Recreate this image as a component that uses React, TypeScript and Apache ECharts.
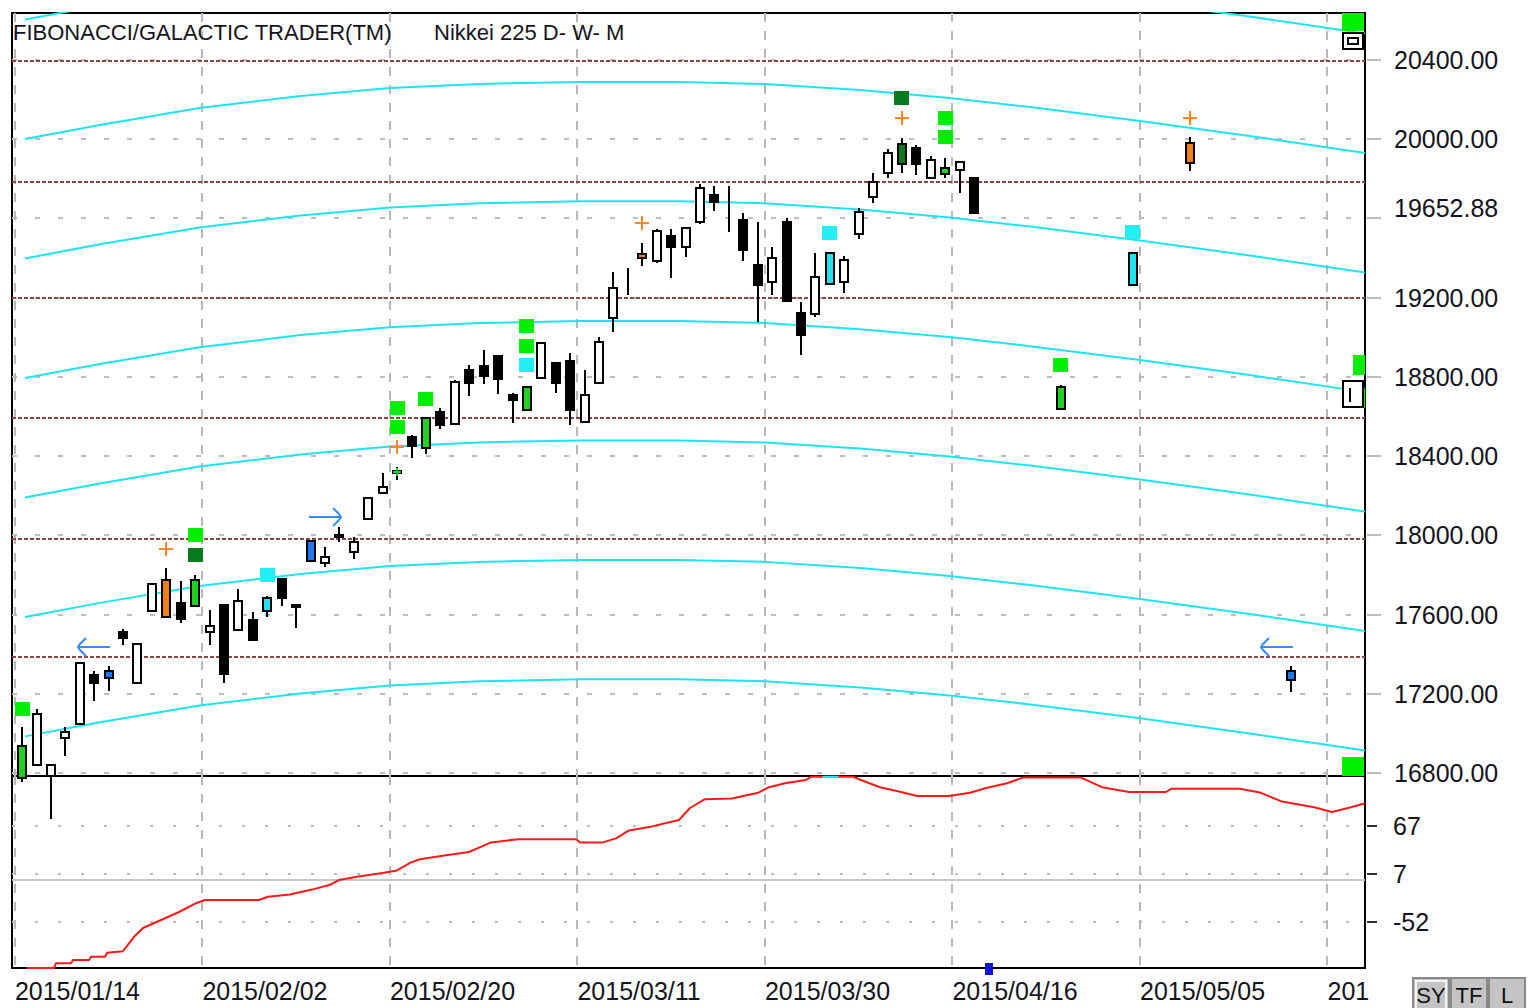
import React, { useEffect, useRef } from "react";
import * as echarts from "echarts";

// ---------- data ----------
const dateLabels = ["2015/01/14", "2015/02/02", "2015/02/20", "2015/03/11", "2015/03/30", "2015/04/16", "2015/05/05", "201"];
const dateLabelBars = [0, 13, 26, 39, 52, 65, 78, 91];

const priceTicks = [16800, 17200, 17600, 18000, 18400, 18800, 19200, 19600, 20000, 20400];
const priceLabels = [16800, 17200, 17600, 18000, 18400, 18800, 19200, 19652.88, 20000, 20400];
const lowerTicks = [67, 7, -52];

const candleOpen = [16936, 16840, 16785, 16976, 17047, 17293, 17278, 17510, 17253, 17616,
  17590, 17656, 17641, 17510, 17646, 17520, 17575, 17616, 17782, 17648,
  17872, 17862, 18003, 17918, 18084, 18215, 18326, 18497, 18441, 18623,
  18562, 18834, 18854, 18905, 18708, 18633, 18794, 18869, 18879, 18572,
  18769, 19096, 19330, 19418, 19383, 19509, 19458, 19584, 19720, 19756,
  19594, 19363, 19277, 19584, 19121, 19116, 19267, 19277, 19519, 19710,
  19831, 19876, 19957, 19806, 19826, 19846, 19806];
const candleClose = [16775, 17097, 16840, 17006, 17354, 17253, 17314, 17480, 17450, 17752,
  17777, 17580, 17777, 17540, 17298, 17666, 17470, 17686, 17686, 17644,
  17973, 17893, 17993, 17968, 18190, 18245, 18316, 18451, 18592, 18557,
  18774, 18769, 18804, 18789, 18683, 18749, 18970, 18769, 18633, 18708,
  18975, 19247, 19330, 19398, 19534, 19458, 19554, 19751, 19685, 19756,
  19443, 19262, 19398, 19182, 19010, 19302, 19423, 19388, 19630, 19786,
  19932, 19977, 19876, 19897, 19856, 19886, 19625];
const candleHigh = [17032, 17122, 16840, 17032, 17354, 17314, 17339, 17525, 17450, 17752,
  17837, 17767, 17802, 17621, 17646, 17731, 17611, 17696, 17782, 17648,
  17973, 17943, 18040, 17993, 18190, 18316, 18346, 18507, 18592, 18643,
  18784, 18859, 18935, 18905, 18718, 18749, 18975, 18869, 18920, 18834,
  19000, 19328, 19348, 19474, 19549, 19549, 19554, 19776, 19766, 19766,
  19625, 19584, 19458, 19604, 19177, 19423, 19423, 19408, 19655, 19831,
  19952, 20007, 19972, 19917, 19907, 19886, 19806];
const candleLow = [16755, 16840, 16568, 16886, 17047, 17163, 17213, 17444, 17253, 17616,
  17590, 17555, 17641, 17444, 17253, 17520, 17470, 17590, 17641, 17530,
  17872, 17842, 17968, 17883, 18084, 18215, 18280, 18391, 18411, 18537,
  18562, 18703, 18764, 18713, 18567, 18633, 18794, 18718, 18557, 18572,
  18769, 19025, 19212, 19358, 19373, 19297, 19403, 19574, 19635, 19529,
  19383, 19076, 19212, 19182, 18910, 19101, 19267, 19222, 19494, 19680,
  19806, 19831, 19821, 19806, 19806, 19730, 19625];
const candleKind = ["g", "w", "w", "w", "w", "b", "u", "b", "w", "w",
  "o", "b", "g", "w", "b", "w", "b", "c", "b", "b",
  "u", "w", "b", "w", "w", "w", "b", "b", "g", "b",
  "w", "b", "b", "b", "b", "g", "w", "b", "b", "w",
  "w", "w", "l", "o", "w", "b", "w", "w", "b", "l",
  "b", "b", "w", "b", "b", "w", "c", "w", "w", "w",
  "w", "d", "b", "w", "g", "w", "b"];

// projected candles
const projBars = [72, 77, 81, 88];
const projOpen = [18638, 19264, 19880, 17270];
const projClose = [18749, 19425, 19981, 17315];
const projHigh = [18759, 19425, 20011, 17340];
const projLow = [18638, 19264, 19839, 17209];
const projKind = ["g", "c", "o", "u"];

// Fibonacci levels (brown dashed)
const fibLevels = [20395, 19784, 19196, 18590, 17982, 17388];

// cyan arc bands
const bandX = [0.2, 5.4, 12.3, 19.3, 25.5, 31.7, 38.7, 45.6, 51.5, 58.1, 64.3, 69.9, 77.5, 85.1, 93.1];
const bandG = [20604, 20675, 20760, 20821, 20861, 20882, 20892, 20892, 20882, 20851, 20811, 20765, 20695, 20619, 20533];
const bandF = [20001, 20072, 20157, 20218, 20258, 20279, 20289, 20289, 20279, 20248, 20208, 20162, 20092, 20016, 19930];
const bandE = [19398, 19469, 19554, 19615, 19655, 19676, 19686, 19686, 19676, 19645, 19605, 19559, 19489, 19413, 19327];
const bandD = [18794, 18865, 18950, 19011, 19051, 19072, 19082, 19082, 19072, 19041, 19001, 18955, 18885, 18809, 18723];
const bandC = [18191, 18262, 18347, 18408, 18448, 18469, 18479, 18479, 18469, 18438, 18398, 18352, 18282, 18206, 18120];
const bandB = [17588, 17659, 17744, 17805, 17845, 17866, 17876, 17876, 17866, 17835, 17795, 17749, 17679, 17603, 17517];
const bandA = [16985, 17056, 17141, 17202, 17242, 17263, 17273, 17273, 17263, 17232, 17192, 17146, 17076, 17000, 16914];
const bands = [bandG, bandF, bandE, bandD, bandC, bandB, bandA];

// signal squares
const greenSqBars = [0, 12, 26, 26, 28, 35, 35, 64, 64, 72];
const greenSqVals = [17123, 18002, 18643, 18547, 18688, 19057, 18956, 20107, 20011, 18860];
const darkSqBars = [12, 61];
const darkSqVals = [17901, 20208];
const cyanSqBars = [17, 35, 56, 77];
const cyanSqVals = [17800, 18860, 19526, 19531];
const edgeSqBars = [92.3, 92.3];
const edgeSqVals = [20592, 16835];
const edgeSmallBars = [92.75, 92.96];
const edgeSmallVals = [18860, 18693];
const edgeBoxBars = [92.3, 92.3];
const edgeBoxVals = [20498, 18714];

// crosses and arrows
const orangeCrossBars = [10, 26, 43, 61, 81];
const orangeCrossVals = [17931, 18446, 19577, 20107, 20107];
const greenCrossBars = [26];
const greenCrossVals = [18320];
const leftArrowBars = [5, 87];
const leftArrowVals = [17436, 17436];
const rightArrowBars = [21];
const rightArrowVals = [18093];

// lower oscillator
const oscX = [0.34, 2.21, 2.35, 3.39, 3.53, 4.64, 4.78, 5.75, 5.89, 6.99, 7.76, 8.38, 9.63, 10.88, 12.06,
  12.68, 16.42, 17.05, 18.57, 20.1, 21.35, 21.97, 23.22, 25.09, 25.99, 26.96, 27.58, 29.39, 30.98, 31.88,
  32.5, 34.38, 38.4, 38.68, 40.27, 41.17, 42.07, 43.67, 45.54, 46.3, 47.34, 49.22, 51.02, 51.78, 52.89,
  54.35, 54.69, 57.61, 58.02, 59.48, 60.94, 62.04, 64.26, 65.72, 66.83, 68.28, 69.39, 73.41, 74.87, 76.74,
  79.3, 79.65, 84.43, 85.89, 87.35, 89.57, 90.81, 92.13, 93.1];
const oscY = [-110, -110, -104, -104, -100, -100, -96, -96, -91, -89, -71, -60, -50, -40, -29,
  -25, -25, -21, -18, -12, -6, 0, 4, 9, 12, 22, 26, 31, 35, 42,
  47, 51, 51, 47, 47, 52, 62, 67, 75, 90, 101, 102, 109, 116, 121,
  125, 129, 129, 126, 116, 110, 105, 105, 109, 115, 121, 128, 128, 116, 110,
  110, 114, 114, 109, 98, 91, 85, 91, 96];
const oscCyanX = [55.5, 56.6];
const oscCyanY = [129, 129];
const lowerMarkBars = [67];
const lowerMarkVals = [-111];

// ---------- styles ----------
const FONT = '"Liberation Sans", Arial, sans-serif';
const palette: Record<string, string> = {
  w: "#ffffff", b: "#000000", g: "#22d022", d: "#0a7a1e", o: "#f28018", u: "#1f78f0", c: "#22e4ee",
};
const X_MIN = -0.7;
const X_MAX = 93.1;

const pairs = (xs: number[], ys: number[]) => xs.map((x, i) => [x, ys[i]]);

function hLineRender(style: any) {
  return (params: any, api: any) => {
    const cs = params.coordSys;
    const y = Math.round(api.coord([0, api.value(1)])[1]);
    return { type: "line", shape: { x1: cs.x, y1: y, x2: cs.x + cs.width, y2: y }, style };
  };
}
function tickRender(from: number, len: number, style: any) {
  return (params: any, api: any) => {
    const cs = params.coordSys;
    const y = Math.round(api.coord([0, api.value(1)])[1]);
    const x0 = cs.x + cs.width + from;
    return { type: "line", shape: { x1: x0, y1: y, x2: x0 + len, y2: y }, style };
  };
}
function vLineRender(style: any) {
  return (params: any, api: any) => {
    const cs = params.coordSys;
    const x = Math.round(api.coord([api.value(0), 0])[0]);
    return { type: "line", shape: { x1: x, y1: cs.y, x2: x, y2: cs.y + cs.height }, style };
  };
}
function candleRender(kinds: string[]) {
  return (params: any, api: any) => {
    const bar = api.value(0);
    const p0 = api.coord([bar, api.value(1)]);
    const x = Math.round(p0[0]);
    const yo = p0[1];
    const yc = api.coord([bar, api.value(2)])[1];
    const yh = Math.round(api.coord([bar, api.value(3)])[1]);
    const yl = Math.round(api.coord([bar, api.value(4)])[1]);
    const top = Math.round(Math.min(yo, yc));
    const bot = Math.round(Math.max(yo, yc));
    const k = kinds[params.dataIndex];
    const children: any[] = [
      { type: "line", shape: { x1: x, y1: yh, x2: x, y2: Math.max(yl, yh + 2) }, style: { stroke: "#000", lineWidth: 2 } },
    ];
    if (k !== "l") {
      children.push({
        type: "rect",
        shape: { x: x - 4, y: top, width: 8, height: Math.max(bot - top, 2) },
        style: { fill: palette[k], stroke: "#000", lineWidth: 2 },
      });
    }
    return { type: "group", children };
  };
}
function squareRender(w: number, h: number, fill: string, stroke?: string) {
  return (params: any, api: any) => {
    const p = api.coord([api.value(0), api.value(1)]);
    return {
      type: "rect",
      shape: { x: Math.round(p[0] - w / 2), y: Math.round(p[1] - h / 2), width: w, height: h },
      style: stroke ? { fill, stroke, lineWidth: 2 } : { fill },
    };
  };
}
function crossRender(size: number, color: string) {
  return (params: any, api: any) => {
    const p = api.coord([api.value(0), api.value(1)]);
    const x = Math.round(p[0]);
    const y = Math.round(p[1]);
    const s = size / 2;
    return {
      type: "group",
      children: [
        { type: "line", shape: { x1: x - s, y1: y, x2: x + s, y2: y }, style: { stroke: color, lineWidth: 2 } },
        { type: "line", shape: { x1: x, y1: y - s, x2: x, y2: y + s }, style: { stroke: color, lineWidth: 2 } },
      ],
    };
  };
}
function arrowRender(dir: number) {
  return (params: any, api: any) => {
    const p = api.coord([api.value(0), api.value(1)]);
    const x = Math.round(p[0]);
    const y = Math.round(p[1]);
    const tip = x - dir * 16;
    const tail = x + dir * 16;
    const st = { stroke: "#3a8cff", lineWidth: 2, fill: null };
    return {
      type: "group",
      children: [
        { type: "line", shape: { x1: tip, y1: y, x2: tail, y2: y }, style: st },
        { type: "polyline", shape: { points: [[tip + dir * 8, y - 9], [tip + dir * 2, y - 3], [tip, y], [tip + dir * 2, y + 3], [tip + dir * 8, y + 9]] }, style: st },
      ],
    };
  };
}

function buildOption() {
  const gridStyleH = { stroke: "#bdbdbd", lineWidth: 2, lineDash: [5, 18] };
  const gridStyleV = { stroke: "#b8b8b8", lineWidth: 2, lineDash: [9, 9] };
  const fibStyle = { stroke: "#8c4646", lineWidth: 2, lineDash: [4, 2] };
  const labelStyle = { fontSize: 25, color: "#141420", fontFamily: FONT };

  const series: any[] = [];
  // gridlines main
  series.push({ type: "custom", xAxisIndex: 0, yAxisIndex: 0, z: 1, silent: true, renderItem: hLineRender(gridStyleH), encode: { x: 0, y: 1 }, data: priceTicks.map((v) => [0, v]) });
  series.push({ type: "custom", xAxisIndex: 0, yAxisIndex: 0, z: 1, silent: true, renderItem: vLineRender(gridStyleV), encode: { x: 0, y: 1 }, data: dateLabelBars.map((b) => [b - 0.5, 18000]) });
  series.push({ type: "custom", xAxisIndex: 0, yAxisIndex: 0, z: 2, silent: true, renderItem: hLineRender(fibStyle), encode: { x: 0, y: 1 }, data: fibLevels.map((v) => [0, v]) });
  // axis ticks (right side)
  series.push({ type: "custom", xAxisIndex: 0, yAxisIndex: 0, z: 2, silent: true, renderItem: tickRender(2, 14, { stroke: "#bdbdbd", lineWidth: 2 }), encode: { x: 0, y: 1 }, data: priceTicks.map((v) => [0, v]) });
  series.push({ type: "custom", xAxisIndex: 1, yAxisIndex: 1, z: 2, silent: true, renderItem: tickRender(2, 10, { stroke: "#333", lineWidth: 2 }), encode: { x: 0, y: 1 }, data: lowerTicks.map((v) => [0, v]) });
  // gridlines lower
  series.push({ type: "custom", xAxisIndex: 1, yAxisIndex: 1, z: 1, silent: true, renderItem: hLineRender({ stroke: "#bdbdbd", lineWidth: 2, lineDash: [3, 20] }), encode: { x: 0, y: 1 }, data: lowerTicks.map((v) => [0, v]) });
  series.push({ type: "custom", xAxisIndex: 1, yAxisIndex: 1, z: 1, silent: true, renderItem: hLineRender({ stroke: "#c8c8c8", lineWidth: 2 }), encode: { x: 0, y: 1 }, data: [[0, 0]] });
  series.push({ type: "custom", xAxisIndex: 1, yAxisIndex: 1, z: 1, silent: true, renderItem: vLineRender(gridStyleV), encode: { x: 0, y: 1 }, data: dateLabelBars.map((b) => [b - 0.5, 0]) });

  // cyan arc bands
  bands.forEach((band) => {
    series.push({
      type: "line", xAxisIndex: 0, yAxisIndex: 0, z: 3, silent: true, showSymbol: false, clip: true,
      lineStyle: { color: "#1fe4f0", width: 2 }, data: pairs(bandX, band),
    });
  });

  // candles
  series.push({
    type: "custom", xAxisIndex: 0, yAxisIndex: 0, z: 5, silent: true, renderItem: candleRender(candleKind),
    encode: { x: 0, y: [1, 2, 3, 4] },
    data: candleOpen.map((o, i) => [i, o, candleClose[i], candleHigh[i], candleLow[i]]),
  });
  series.push({
    type: "custom", xAxisIndex: 0, yAxisIndex: 0, z: 5, silent: true, renderItem: candleRender(projKind),
    encode: { x: 0, y: [1, 2, 3, 4] },
    data: projBars.map((b, i) => [b, projOpen[i], projClose[i], projHigh[i], projLow[i]]),
  });

  // squares
  series.push({ type: "custom", xAxisIndex: 0, yAxisIndex: 0, z: 6, silent: true, renderItem: squareRender(15, 14, "#00ee00"), encode: { x: 0, y: 1 }, data: pairs(greenSqBars, greenSqVals) });
  series.push({ type: "custom", xAxisIndex: 0, yAxisIndex: 0, z: 6, silent: true, renderItem: squareRender(15, 14, "#0a7a1e"), encode: { x: 0, y: 1 }, data: pairs(darkSqBars, darkSqVals) });
  series.push({ type: "custom", xAxisIndex: 0, yAxisIndex: 0, z: 6, silent: true, renderItem: squareRender(15, 14, "#22f0f4"), encode: { x: 0, y: 1 }, data: pairs(cyanSqBars, cyanSqVals) });
  series.push({ type: "custom", xAxisIndex: 0, yAxisIndex: 0, z: 6, silent: true, clip: true, renderItem: squareRender(22, 19, "#00ee00"), encode: { x: 0, y: 1 }, data: pairs(edgeSqBars, edgeSqVals) });
  series.push({ type: "custom", xAxisIndex: 0, yAxisIndex: 0, z: 6, silent: true, clip: true, renderItem: squareRender(14, 20, "#00ee00"), encode: { x: 0, y: 1 }, data: pairs(edgeSmallBars, edgeSmallVals) });
  series.push({
    type: "custom", xAxisIndex: 0, yAxisIndex: 0, z: 7, silent: true, clip: true,
    renderItem: (params: any, api: any) => {
      const p = api.coord([api.value(0), api.value(1)]);
      const x = Math.round(p[0]);
      const y = Math.round(p[1]);
      const big = params.dataIndex === 1;
      const h = big ? 26 : 16;
      const children: any[] = [
        { type: "rect", shape: { x: x - 10, y: y - h / 2, width: 20, height: h }, style: { fill: "#fff", stroke: "#000", lineWidth: 2 } },
      ];
      if (!big) children.push({ type: "rect", shape: { x: x - 5, y: y - 3, width: 10, height: 6 }, style: { fill: "#fff", stroke: "#000", lineWidth: 2 } });
      else children.push({ type: "line", shape: { x1: x - 3, y1: y - 6, x2: x - 3, y2: y + 8 }, style: { stroke: "#000", lineWidth: 2 } });
      return { type: "group", children };
    },
    encode: { x: 0, y: 1 }, data: pairs(edgeBoxBars, edgeBoxVals),
  });

  // crosses & arrows
  series.push({ type: "custom", xAxisIndex: 0, yAxisIndex: 0, z: 7, silent: true, renderItem: crossRender(14, "#ff8a2a"), encode: { x: 0, y: 1 }, data: pairs(orangeCrossBars, orangeCrossVals) });
  series.push({ type: "custom", xAxisIndex: 0, yAxisIndex: 0, z: 7, silent: true, renderItem: crossRender(8, "#22cc22"), encode: { x: 0, y: 1 }, data: pairs(greenCrossBars, greenCrossVals) });
  series.push({ type: "custom", xAxisIndex: 0, yAxisIndex: 0, z: 7, silent: true, renderItem: arrowRender(1), encode: { x: 0, y: 1 }, data: pairs(leftArrowBars, leftArrowVals) });
  series.push({ type: "custom", xAxisIndex: 0, yAxisIndex: 0, z: 7, silent: true, renderItem: arrowRender(-1), encode: { x: 0, y: 1 }, data: pairs(rightArrowBars, rightArrowVals) });

  // lower oscillator
  series.push({
    type: "line", xAxisIndex: 1, yAxisIndex: 1, z: 4, silent: true, showSymbol: false, clip: false,
    lineStyle: { color: "#ff1a1a", width: 2 }, data: pairs(oscX, oscY),
  });
  series.push({
    type: "line", xAxisIndex: 1, yAxisIndex: 1, z: 5, silent: true, showSymbol: false, clip: false,
    lineStyle: { color: "#22e8f0", width: 2 }, data: pairs(oscCyanX, oscCyanY),
  });
  series.push({ type: "custom", xAxisIndex: 1, yAxisIndex: 1, z: 6, silent: true, renderItem: squareRender(8, 12, "#1010dd"), encode: { x: 0, y: 1 }, data: pairs(lowerMarkBars, lowerMarkVals) });

  const buttons = ["SY", "TF", "L"];
  const graphic: any[] = [];
  buttons.forEach((t, i) => {
    const bx = 1413 + i * 38;
    graphic.push({ type: "rect", shape: { x: bx, y: 978, width: 36, height: 32 }, style: { fill: "#c4c4c4", stroke: "#8a8a8a", lineWidth: 2 } });
    if (i === 0) graphic.push({ type: "rect", shape: { x: bx + 3, y: 981, width: 30, height: 30 }, style: { fill: "none", stroke: "#f4f4f4", lineWidth: 2 } });
    graphic.push({ type: "text", x: bx + 18, y: 995, style: { text: t, fontSize: 22, fontFamily: FONT, fill: "#111", align: "center", verticalAlign: "middle" } });
  });

  return {
    animation: false,
    backgroundColor: "#ffffff",
    title: [
      { text: "FIBONACCI/GALACTIC TRADER(TM)", left: 13, top: 21, padding: 0, textStyle: { fontSize: 22, fontWeight: "normal", color: "#141420", fontFamily: FONT } },
      { text: "Nikkei 225 D- W- M", left: 434, top: 21, padding: 0, textStyle: { fontSize: 22, fontWeight: "normal", color: "#141420", fontFamily: FONT } },
    ],
    grid: [
      { left: 12, top: 13, width: 1353, height: 763, show: true, borderColor: "#000", borderWidth: 2, backgroundColor: "transparent" },
      { left: 12, top: 776, width: 1353, height: 192, show: true, borderColor: "#000", borderWidth: 2, backgroundColor: "transparent" },
    ],
    xAxis: [
      { type: "value", gridIndex: 0, min: X_MIN, max: X_MAX, show: false },
      {
        type: "value", gridIndex: 1, min: X_MIN, max: X_MAX,
        axisLine: { show: false }, axisTick: { show: false }, splitLine: { show: false },
        axisLabel: {
          ...labelStyle, align: "left", margin: 10, showMinLabel: true, showMaxLabel: true,
          customValues: dateLabelBars.map((b) => b - 0.5),
          formatter: (v: number) => dateLabels[Math.round((v + 0.5) / 13)] ?? "",
        },
      },
    ],
    yAxis: [
      {
        type: "value", gridIndex: 0, position: "right", min: 16785, max: 20637,
        axisLine: { show: false }, splitLine: { show: false }, axisTick: { show: false },
        axisLabel: { ...labelStyle, margin: 29, customValues: priceLabels, formatter: (v: number) => v.toFixed(2) },
      },
      {
        type: "value", gridIndex: 1, position: "right", min: -110, max: 130,
        axisLine: { show: false }, splitLine: { show: false }, axisTick: { show: false },
        axisLabel: { ...labelStyle, margin: 28, customValues: lowerTicks, formatter: (v: number) => String(v) },
      },
    ],
    graphic,
    series,
  };
}

export default function App() {
  const ref = useRef<HTMLDivElement>(null);
  useEffect(() => {
    if (!ref.current) return;
    const chart = echarts.init(ref.current, undefined, { renderer: "svg" });
    chart.setOption(buildOption() as any);
    return () => chart.dispose();
  }, []);
  return <div ref={ref} style={{ position: "fixed", left: 0, top: 0, width: 1529, height: 1008, background: "#fff" }} />;
}
